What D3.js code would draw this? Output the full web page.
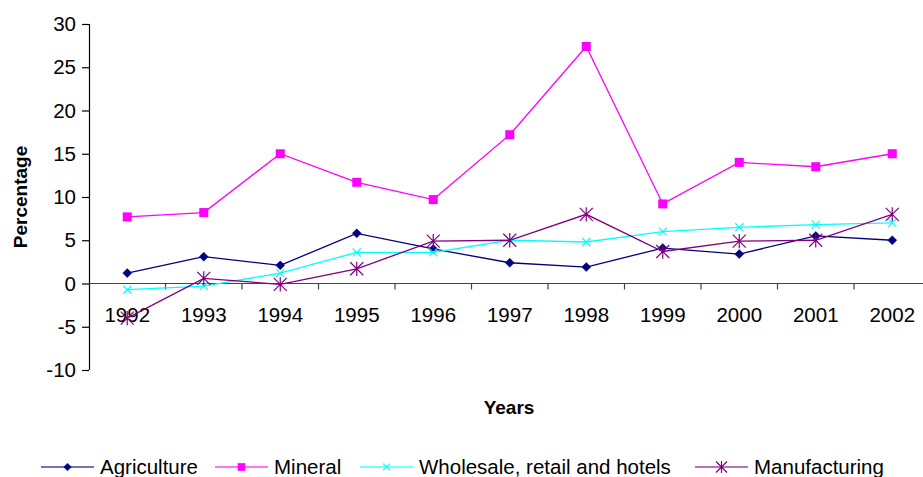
<!DOCTYPE html>
<html>
<head>
<meta charset="utf-8">
<script src="https://cdn.jsdelivr.net/npm/d3@7/dist/d3.min.js"></script>
<style>
  html, body { margin: 0; padding: 0; background: #fff; }
  svg { display: block; }
  text { font-family: "Liberation Sans", Arial, sans-serif; fill: #000; }
</style>
</head>
<body>
<svg id="chart" width="923" height="477"></svg>
<script>
// Annual growth by sector, 1992-2002 (percent)
const years = ["1992","1993","1994","1995","1996","1997","1998","1999","2000","2001","2002"];
const agriculture   = [1.2, 3.1, 2.1, 5.8, 4.0, 2.4, 1.9, 4.1, 3.4, 5.5, 5.0];
const mineral       = [7.7, 8.2, 15.0, 11.7, 9.7, 17.2, 27.4, 9.2, 14.0, 13.5, 15.0];
const wholesale     = [-0.7, -0.3, 1.2, 3.6, 3.6, 5.0, 4.8, 6.0, 6.5, 6.8, 7.0];
const manufacturing = [-4.0, 0.6, -0.1, 1.7, 4.9, 5.0, 8.0, 3.7, 4.9, 5.0, 8.0];
const yTicks = [-10, -5, 0, 5, 10, 15, 20, 25, 30];

const seriesNames = ["Agriculture", "Mineral", "Wholesale, retail and hotels", "Manufacturing"];
const seriesValues = [agriculture, mineral, wholesale, manufacturing];
const seriesColors = ["#000080", "#ff00ff", "#00ffff", "#800080"];
const seriesMarkers = ["diamond", "square", "cross", "asterisk"];

const svg = d3.select("#chart");
const plotLeft = 89, plotTop = 24, plotBottom = 370;
const bandW = 76.5;
const fontSize = "20.5px";

const x = d3.scaleBand().domain(years).range([plotLeft, plotLeft + bandW * years.length]).paddingInner(0).paddingOuter(0);
const y = d3.scaleLinear().domain([-10, 30]).range([plotBottom, plotTop]);

// Y axis (plain hyphen for negatives)
const yAxis = svg.append("g").attr("transform", `translate(${plotLeft},0)`)
  .call(d3.axisLeft(y).tickValues(yTicks).tickSize(7).tickPadding(6).tickFormat(d => String(d)));
yAxis.selectAll("path, line").attr("stroke", "#000").attr("stroke-width", 1.2);
yAxis.select(".domain").attr("d", `M0.5,${plotTop}V${plotBottom}`);
yAxis.selectAll("text").style("font-size", fontSize).style("font-family", "Liberation Sans, Arial, sans-serif");

// X axis sitting on the zero line, ticks at category boundaries
const y0 = y(0);
const xg = svg.append("g");
xg.append("line").attr("x1", plotLeft).attr("x2", 923).attr("y1", y0).attr("y2", y0)
  .attr("stroke", "#444").attr("stroke-width", 1.2);
xg.selectAll("line.tick").data(years.slice(1)).enter().append("line")
  .attr("class", "tick")
  .attr("x1", d => x(d)).attr("x2", d => x(d))
  .attr("y1", y0).attr("y2", y0 + 6)
  .attr("stroke", "#444").attr("stroke-width", 1.2);
xg.selectAll("text").data(years).enter().append("text")
  .attr("x", d => x(d) + x.bandwidth() / 2)
  .attr("y", y0 + 38)
  .attr("text-anchor", "middle")
  .style("font-size", fontSize)
  .text(d => d);

// Axis titles
svg.append("text")
  .attr("transform", `translate(27,${(plotTop + plotBottom) / 2}) rotate(-90)`)
  .attr("text-anchor", "middle")
  .style("font-size", "19px").style("font-weight", "bold")
  .text("Percentage");
svg.append("text")
  .attr("x", 509).attr("y", 414)
  .attr("text-anchor", "middle")
  .style("font-size", "19px").style("font-weight", "bold")
  .text("Years");

// Marker drawing
function drawMarker(g, type, cx, cy, color, scale) {
  const s = scale || 1;
  if (type === "diamond") {
    const r = 4.5 * s;
    g.append("path").attr("d", `M${cx},${cy - r}L${cx + r},${cy}L${cx},${cy + r}L${cx - r},${cy}Z`)
      .attr("fill", color).attr("stroke", color).attr("stroke-width", 0.5);
  } else if (type === "square") {
    const r = 4.5 * s;
    g.append("rect").attr("x", cx - r).attr("y", cy - r).attr("width", 2 * r).attr("height", 2 * r)
      .attr("fill", color);
  } else if (type === "cross") {
    const r = 4 * s;
    g.append("path").attr("d", `M${cx - r},${cy - r}L${cx + r},${cy + r}M${cx - r},${cy + r}L${cx + r},${cy - r}`)
      .attr("stroke", color).attr("stroke-width", 1.2).attr("fill", "none");
  } else if (type === "asterisk") {
    const r = 6.5 * s;
    g.append("path").attr("d", `M${cx - r},${cy - r}L${cx + r},${cy + r}M${cx - r},${cy + r}L${cx + r},${cy - r}M${cx},${cy - r * 1.1}L${cx},${cy + r * 1.1}`)
      .attr("stroke", color).attr("stroke-width", 1.2).attr("fill", "none");
  }
}

// Series lines and markers
const line = d3.line()
  .x((d, i) => x(years[i]) + x.bandwidth() / 2)
  .y(d => y(d));

seriesValues.forEach((vals, si) => {
  const g = svg.append("g");
  g.append("path").datum(vals).attr("d", line)
    .attr("fill", "none").attr("stroke", seriesColors[si]).attr("stroke-width", 1.3);
  vals.forEach((v, i) => {
    drawMarker(g, seriesMarkers[si], x(years[i]) + x.bandwidth() / 2, y(v), seriesColors[si]);
  });
});

// Legend
const legendX = [41, 215, 360, 695];
const legendY = 467;
seriesNames.forEach((name, si) => {
  const g = svg.append("g");
  const lx = legendX[si];
  g.append("line").attr("x1", lx).attr("x2", lx + 53).attr("y1", legendY).attr("y2", legendY)
    .attr("stroke", seriesColors[si]).attr("stroke-width", 2).attr("stroke-opacity", 0.55);
  drawMarker(g, seriesMarkers[si], lx + 26.5, legendY, seriesColors[si], 0.85);
  g.append("text").attr("x", lx + 59).attr("y", legendY + 7)
    .style("font-size", fontSize).text(name);
});
</script>
</body>
</html>
